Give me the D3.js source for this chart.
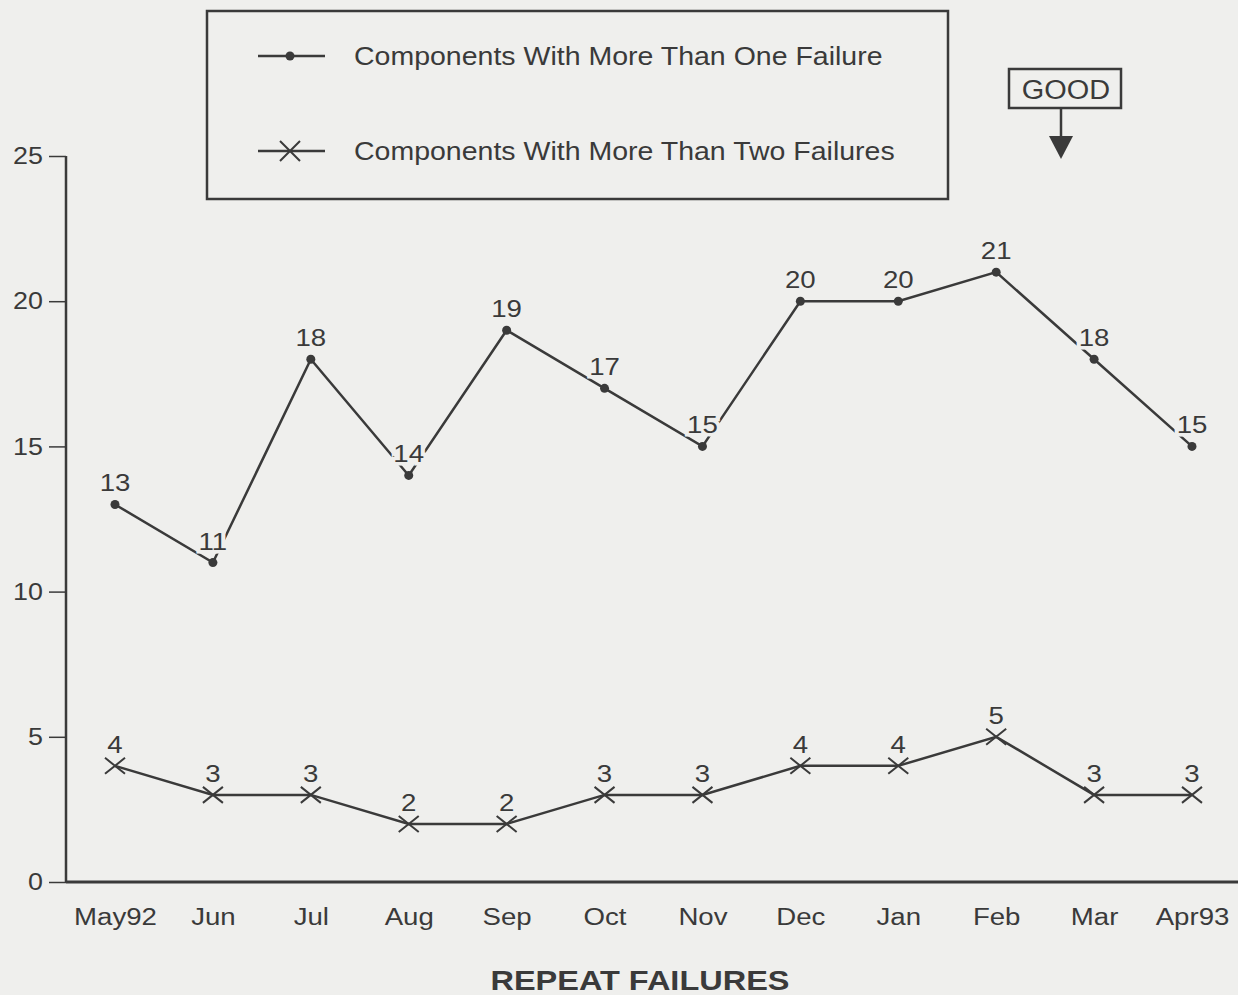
<!DOCTYPE html>
<html>
<head>
<meta charset="utf-8">
<script src="https://cdn.jsdelivr.net/npm/d3@7"></script>
<style>
  html, body { margin: 0; padding: 0; background: #efefed; }
  svg { display: block; }
  text { font-family: "Liberation Sans", Arial, Helvetica, sans-serif; fill: #3a3a3a; }
</style>
</head>
<body>
<svg id="chart" width="1238" height="995"></svg>
<script>
// Monthly repeat-failure counts, May 1992 – April 1993
const months = ["May92", "Jun", "Jul", "Aug", "Sep", "Oct", "Nov", "Dec", "Jan", "Feb", "Mar", "Apr93"];
const moreThanOne = [13, 11, 18, 14, 19, 17, 15, 20, 20, 21, 18, 15];
const moreThanTwo = [4, 3, 3, 2, 2, 3, 3, 4, 4, 5, 3, 3];
const yTicks = [0, 5, 10, 15, 20, 25];
const seriesNames = ["Components With More Than One Failure", "Components With More Than Two Failures"];

const bg = "#efefed";
const ink = "#3a3a3a";

// widen glyphs horizontally to mimic the wide typewriter-era sans face
function stretch(sel, factor) {
  sel.each(function () {
    const w = this.getComputedTextLength();
    d3.select(this).attr("textLength", w * factor).attr("lengthAdjust", "spacingAndGlyphs");
  });
}

const svg = d3.select("#chart");
svg.append("rect").attr("width", 1238).attr("height", 995).attr("fill", bg);

const x = d3.scalePoint().domain(months).range([115, 1192]);
const y = d3.scaleLinear().domain([0, 25]).range([882, 156]);

// y axis
const yAxis = svg.append("g").attr("transform", "translate(66,0)")
  .call(d3.axisLeft(y).tickValues(yTicks).tickSize(17).tickPadding(6));
yAxis.select(".domain").remove();
yAxis.selectAll("line").attr("stroke", ink).attr("stroke-width", 1.5);
yAxis.selectAll("text").attr("font-size", 24).style("fill", ink).call(stretch, 1.12);
svg.append("line").attr("x1", 66).attr("x2", 66).attr("y1", y(25)).attr("y2", y(0))
  .attr("stroke", ink).attr("stroke-width", 2.5);

// x axis
svg.append("line").attr("x1", 66).attr("x2", 1238).attr("y1", y(0)).attr("y2", y(0))
  .attr("stroke", ink).attr("stroke-width", 3);
const xAxis = svg.append("g").attr("transform", `translate(0,${y(0)})`)
  .call(d3.axisBottom(x).tickSize(0).tickPadding(27));
xAxis.select(".domain").remove();
xAxis.selectAll("text").attr("font-size", 23).style("fill", ink).call(stretch, 1.2);

const line = d3.line().x((d, i) => x(months[i])).y(d => y(d));

function drawSeries(values, marker) {
  const g = svg.append("g");
  g.append("path").datum(values).attr("d", line)
    .attr("fill", "none").attr("stroke", ink).attr("stroke-width", 2.5);
  if (marker === "dot") {
    g.selectAll("circle").data(values).join("circle")
      .attr("cx", (d, i) => x(months[i])).attr("cy", d => y(d)).attr("r", 4.5).attr("fill", ink);
  } else {
    g.selectAll("path.x").data(values).join("path").attr("class", "x")
      .attr("d", (d, i) => {
        const cx = x(months[i]), cy = y(d), w = 10, h = 8;
        return `M${cx - w},${cy - h}L${cx + w},${cy + h}M${cx - w},${cy + h}L${cx + w},${cy - h}`;
      })
      .attr("stroke", ink).attr("stroke-width", 2).attr("fill", "none");
  }
  g.selectAll("text").data(values).join("text")
    .attr("x", (d, i) => x(months[i])).attr("y", d => y(d) - 13)
    .attr("text-anchor", "middle").attr("font-size", 23)
    .attr("stroke", bg).attr("stroke-width", 7).attr("paint-order", "stroke")
    .text(d => d)
    .call(stretch, 1.2);
}
drawSeries(moreThanOne, "dot");
drawSeries(moreThanTwo, "x");

// legend
const lg = svg.append("g");
lg.append("rect").attr("x", 207).attr("y", 11).attr("width", 741).attr("height", 188)
  .attr("fill", "none").attr("stroke", ink).attr("stroke-width", 2.5);
[56, 151].forEach((ly, k) => {
  lg.append("line").attr("x1", 258).attr("x2", 325).attr("y1", ly).attr("y2", ly)
    .attr("stroke", ink).attr("stroke-width", 2.5);
  if (k === 0) {
    lg.append("circle").attr("cx", 290).attr("cy", ly).attr("r", 4.5).attr("fill", ink);
  } else {
    lg.append("path").attr("d", `M280,${ly - 10}L300,${ly + 10}M280,${ly + 10}L300,${ly - 10}`)
      .attr("stroke", ink).attr("stroke-width", 2);
  }
  lg.append("text").attr("x", 354).attr("y", ly + 9).attr("font-size", 25)
    .text(seriesNames[k]).call(stretch, 1.14);
});

// "GOOD" direction indicator
svg.append("rect").attr("x", 1009).attr("y", 69).attr("width", 112).attr("height", 39)
  .attr("fill", "none").attr("stroke", ink).attr("stroke-width", 2.5);
svg.append("text").attr("x", 1066).attr("y", 99).attr("text-anchor", "middle")
  .attr("font-size", 27).text("GOOD").call(stretch, 1.07);
svg.append("line").attr("x1", 1061).attr("x2", 1061).attr("y1", 108).attr("y2", 138)
  .attr("stroke", ink).attr("stroke-width", 2.5);
svg.append("path").attr("d", "M1049,136L1073,136L1061,159Z").attr("fill", ink);

// chart title
svg.append("text").attr("x", 640).attr("y", 990).attr("text-anchor", "middle")
  .attr("font-size", 28).attr("font-weight", "bold").text("REPEAT FAILURES").call(stretch, 1.16);
</script>
</body>
</html>
